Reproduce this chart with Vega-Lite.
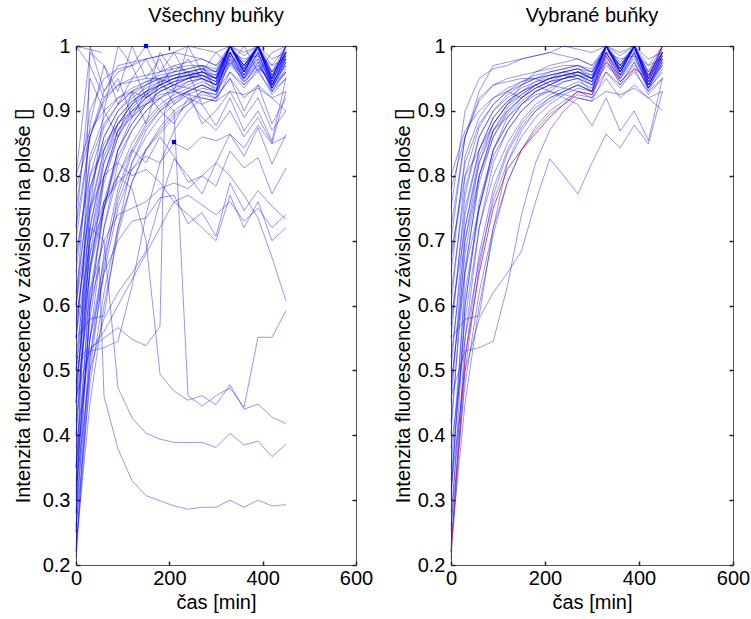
{
  "$schema": "https://vega.github.io/schema/vega-lite/v6.json",
  "background": "white",
  "padding": {"left": 12, "top": 5, "right": 5, "bottom": 5},
  "spacing": 18,
  "config": {
    "view": {"stroke": "#555555", "strokeWidth": 1},
    "font": "Liberation Sans, Arial, sans-serif",
    "axis": {
      "labelFont": "Liberation Sans, Arial, sans-serif",
      "labelFontSize": 20,
      "labelColor": "#000000",
      "labelFlush": false,
      "labelOverlap": false,
      "titleFont": "Liberation Sans, Arial, sans-serif",
      "titleFontSize": 20,
      "titleFontWeight": "normal",
      "titleColor": "#000000",
      "grid": false,
      "domain": false,
      "tickColor": "#222222",
      "tickSize": -4,
      "tickWidth": 1.5
    },
    "axisX": {"labelPadding": 7, "titlePadding": 4},
    "axisY": {"labelPadding": 10, "titlePadding": 9},
    "title": {"font": "Liberation Sans, Arial, sans-serif", "fontSize": 20, "fontWeight": "normal", "color": "#000000", "offset": 10}
  },
  "datasets": {
    "dots": [{"t": 150, "v": 1.0}, {"t": 210, "v": 0.852}],
    "cells": [
{"c":1,"s":1,"t":0,"v":0.22},{"c":1,"s":1,"t":30,"v":0.55},{"c":1,"s":1,"t":60,"v":0.72},{"c":1,"s":1,"t":90,"v":0.82},{"c":1,"s":1,"t":120,"v":0.87},{"c":1,"s":1,"t":150,"v":0.9},{"c":1,"s":1,"t":180,"v":0.92},{"c":1,"s":1,"t":210,"v":0.935},{"c":1,"s":1,"t":240,"v":0.945},{"c":1,"s":1,"t":270,"v":0.95},{"c":1,"s":1,"t":300,"v":0.94},{"c":1,"s":1,"t":330,"v":1},{"c":1,"s":1,"t":360,"v":0.965},{"c":1,"s":1,"t":390,"v":1},{"c":1,"s":1,"t":420,"v":0.945},{"c":1,"s":1,"t":450,"v":0.99},
{"c":2,"s":1,"t":0,"v":0.25},{"c":2,"s":1,"t":30,"v":0.6},{"c":2,"s":1,"t":60,"v":0.76},{"c":2,"s":1,"t":90,"v":0.84},{"c":2,"s":1,"t":120,"v":0.88},{"c":2,"s":1,"t":150,"v":0.91},{"c":2,"s":1,"t":180,"v":0.93},{"c":2,"s":1,"t":210,"v":0.94},{"c":2,"s":1,"t":240,"v":0.95},{"c":2,"s":1,"t":270,"v":0.955},{"c":2,"s":1,"t":300,"v":0.945},{"c":2,"s":1,"t":330,"v":1},{"c":2,"s":1,"t":360,"v":0.96},{"c":2,"s":1,"t":390,"v":1},{"c":2,"s":1,"t":420,"v":0.94},{"c":2,"s":1,"t":450,"v":0.98},
{"c":3,"s":1,"t":0,"v":0.3},{"c":3,"s":1,"t":30,"v":0.65},{"c":3,"s":1,"t":60,"v":0.8},{"c":3,"s":1,"t":90,"v":0.87},{"c":3,"s":1,"t":120,"v":0.9},{"c":3,"s":1,"t":150,"v":0.92},{"c":3,"s":1,"t":180,"v":0.935},{"c":3,"s":1,"t":210,"v":0.945},{"c":3,"s":1,"t":240,"v":0.95},{"c":3,"s":1,"t":270,"v":0.96},{"c":3,"s":1,"t":300,"v":0.95},{"c":3,"s":1,"t":330,"v":1},{"c":3,"s":1,"t":360,"v":0.97},{"c":3,"s":1,"t":390,"v":1},{"c":3,"s":1,"t":420,"v":0.95},{"c":3,"s":1,"t":450,"v":1},
{"c":4,"s":1,"t":0,"v":0.35},{"c":4,"s":1,"t":30,"v":0.62},{"c":4,"s":1,"t":60,"v":0.75},{"c":4,"s":1,"t":90,"v":0.83},{"c":4,"s":1,"t":120,"v":0.87},{"c":4,"s":1,"t":150,"v":0.9},{"c":4,"s":1,"t":180,"v":0.92},{"c":4,"s":1,"t":210,"v":0.93},{"c":4,"s":1,"t":240,"v":0.945},{"c":4,"s":1,"t":270,"v":0.95},{"c":4,"s":1,"t":300,"v":0.94},{"c":4,"s":1,"t":330,"v":0.99},{"c":4,"s":1,"t":360,"v":0.955},{"c":4,"s":1,"t":390,"v":0.99},{"c":4,"s":1,"t":420,"v":0.935},{"c":4,"s":1,"t":450,"v":0.975},
{"c":5,"s":1,"t":0,"v":0.4},{"c":5,"s":1,"t":30,"v":0.7},{"c":5,"s":1,"t":60,"v":0.82},{"c":5,"s":1,"t":90,"v":0.88},{"c":5,"s":1,"t":120,"v":0.91},{"c":5,"s":1,"t":150,"v":0.93},{"c":5,"s":1,"t":180,"v":0.94},{"c":5,"s":1,"t":210,"v":0.95},{"c":5,"s":1,"t":240,"v":0.955},{"c":5,"s":1,"t":270,"v":0.96},{"c":5,"s":1,"t":300,"v":0.955},{"c":5,"s":1,"t":330,"v":1},{"c":5,"s":1,"t":360,"v":0.97},{"c":5,"s":1,"t":390,"v":1},{"c":5,"s":1,"t":420,"v":0.955},{"c":5,"s":1,"t":450,"v":0.99},
{"c":6,"s":1,"t":0,"v":0.45},{"c":6,"s":1,"t":30,"v":0.72},{"c":6,"s":1,"t":60,"v":0.83},{"c":6,"s":1,"t":90,"v":0.88},{"c":6,"s":1,"t":120,"v":0.91},{"c":6,"s":1,"t":150,"v":0.925},{"c":6,"s":1,"t":180,"v":0.94},{"c":6,"s":1,"t":210,"v":0.95},{"c":6,"s":1,"t":240,"v":0.96},{"c":6,"s":1,"t":270,"v":0.965},{"c":6,"s":1,"t":300,"v":0.95},{"c":6,"s":1,"t":330,"v":1},{"c":6,"s":1,"t":360,"v":0.96},{"c":6,"s":1,"t":390,"v":1},{"c":6,"s":1,"t":420,"v":0.945},{"c":6,"s":1,"t":450,"v":0.985},
{"c":7,"s":1,"t":0,"v":0.5},{"c":7,"s":1,"t":30,"v":0.74},{"c":7,"s":1,"t":60,"v":0.84},{"c":7,"s":1,"t":90,"v":0.89},{"c":7,"s":1,"t":120,"v":0.915},{"c":7,"s":1,"t":150,"v":0.93},{"c":7,"s":1,"t":180,"v":0.945},{"c":7,"s":1,"t":210,"v":0.955},{"c":7,"s":1,"t":240,"v":0.96},{"c":7,"s":1,"t":270,"v":0.965},{"c":7,"s":1,"t":300,"v":0.955},{"c":7,"s":1,"t":330,"v":1},{"c":7,"s":1,"t":360,"v":0.965},{"c":7,"s":1,"t":390,"v":1},{"c":7,"s":1,"t":420,"v":0.95},{"c":7,"s":1,"t":450,"v":0.99},
{"c":8,"s":1,"t":0,"v":0.55},{"c":8,"s":1,"t":30,"v":0.77},{"c":8,"s":1,"t":60,"v":0.86},{"c":8,"s":1,"t":90,"v":0.9},{"c":8,"s":1,"t":120,"v":0.925},{"c":8,"s":1,"t":150,"v":0.94},{"c":8,"s":1,"t":180,"v":0.95},{"c":8,"s":1,"t":210,"v":0.955},{"c":8,"s":1,"t":240,"v":0.96},{"c":8,"s":1,"t":270,"v":0.965},{"c":8,"s":1,"t":300,"v":0.96},{"c":8,"s":1,"t":330,"v":1},{"c":8,"s":1,"t":360,"v":0.97},{"c":8,"s":1,"t":390,"v":1},{"c":8,"s":1,"t":420,"v":0.955},{"c":8,"s":1,"t":450,"v":0.995},
{"c":9,"s":1,"t":0,"v":0.6},{"c":9,"s":1,"t":30,"v":0.8},{"c":9,"s":1,"t":60,"v":0.875},{"c":9,"s":1,"t":90,"v":0.91},{"c":9,"s":1,"t":120,"v":0.93},{"c":9,"s":1,"t":150,"v":0.945},{"c":9,"s":1,"t":180,"v":0.95},{"c":9,"s":1,"t":210,"v":0.96},{"c":9,"s":1,"t":240,"v":0.965},{"c":9,"s":1,"t":270,"v":0.97},{"c":9,"s":1,"t":300,"v":0.96},{"c":9,"s":1,"t":330,"v":1},{"c":9,"s":1,"t":360,"v":0.965},{"c":9,"s":1,"t":390,"v":1},{"c":9,"s":1,"t":420,"v":0.96},{"c":9,"s":1,"t":450,"v":0.99},
{"c":10,"s":1,"t":0,"v":0.65},{"c":10,"s":1,"t":30,"v":0.83},{"c":10,"s":1,"t":60,"v":0.89},{"c":10,"s":1,"t":90,"v":0.92},{"c":10,"s":1,"t":120,"v":0.935},{"c":10,"s":1,"t":150,"v":0.945},{"c":10,"s":1,"t":180,"v":0.955},{"c":10,"s":1,"t":210,"v":0.96},{"c":10,"s":1,"t":240,"v":0.965},{"c":10,"s":1,"t":270,"v":0.97},{"c":10,"s":1,"t":300,"v":0.96},{"c":10,"s":1,"t":330,"v":0.995},{"c":10,"s":1,"t":360,"v":0.97},{"c":10,"s":1,"t":390,"v":0.995},{"c":10,"s":1,"t":420,"v":0.955},{"c":10,"s":1,"t":450,"v":0.985},
{"c":11,"s":1,"t":0,"v":0.7},{"c":11,"s":1,"t":30,"v":0.86},{"c":11,"s":1,"t":60,"v":0.915},{"c":11,"s":1,"t":90,"v":0.94},{"c":11,"s":1,"t":120,"v":0.95},{"c":11,"s":1,"t":150,"v":0.955},{"c":11,"s":1,"t":180,"v":0.96},{"c":11,"s":1,"t":210,"v":0.965},{"c":11,"s":1,"t":240,"v":0.97},{"c":11,"s":1,"t":270,"v":0.97},{"c":11,"s":1,"t":300,"v":0.965},{"c":11,"s":1,"t":330,"v":1},{"c":11,"s":1,"t":360,"v":0.975},{"c":11,"s":1,"t":390,"v":1},{"c":11,"s":1,"t":420,"v":0.96},{"c":11,"s":1,"t":450,"v":1},
{"c":12,"s":1,"t":0,"v":0.78},{"c":12,"s":1,"t":30,"v":0.86},{"c":12,"s":1,"t":60,"v":0.93},{"c":12,"s":1,"t":90,"v":0.97},{"c":12,"s":1,"t":120,"v":0.975},{"c":12,"s":1,"t":150,"v":0.98},{"c":12,"s":1,"t":180,"v":0.985},{"c":12,"s":1,"t":210,"v":0.99},{"c":12,"s":1,"t":240,"v":0.985},{"c":12,"s":1,"t":270,"v":0.98},{"c":12,"s":1,"t":300,"v":0.97},{"c":12,"s":1,"t":330,"v":0.99},{"c":12,"s":1,"t":360,"v":0.98},{"c":12,"s":1,"t":390,"v":0.985},{"c":12,"s":1,"t":420,"v":0.97},{"c":12,"s":1,"t":450,"v":0.98},
{"c":13,"s":1,"t":0,"v":0.28},{"c":13,"s":1,"t":30,"v":0.52},{"c":13,"s":1,"t":60,"v":0.68},{"c":13,"s":1,"t":90,"v":0.78},{"c":13,"s":1,"t":120,"v":0.84},{"c":13,"s":1,"t":150,"v":0.88},{"c":13,"s":1,"t":180,"v":0.905},{"c":13,"s":1,"t":210,"v":0.92},{"c":13,"s":1,"t":240,"v":0.93},{"c":13,"s":1,"t":270,"v":0.94},{"c":13,"s":1,"t":300,"v":0.93},{"c":13,"s":1,"t":330,"v":1},{"c":13,"s":1,"t":360,"v":0.955},{"c":13,"s":1,"t":390,"v":1},{"c":13,"s":1,"t":420,"v":0.935},{"c":13,"s":1,"t":450,"v":0.97},
{"c":14,"s":1,"t":0,"v":0.33},{"c":14,"s":1,"t":30,"v":0.58},{"c":14,"s":1,"t":60,"v":0.72},{"c":14,"s":1,"t":90,"v":0.8},{"c":14,"s":1,"t":120,"v":0.85},{"c":14,"s":1,"t":150,"v":0.885},{"c":14,"s":1,"t":180,"v":0.91},{"c":14,"s":1,"t":210,"v":0.925},{"c":14,"s":1,"t":240,"v":0.935},{"c":14,"s":1,"t":270,"v":0.945},{"c":14,"s":1,"t":300,"v":0.935},{"c":14,"s":1,"t":330,"v":0.985},{"c":14,"s":1,"t":360,"v":0.95},{"c":14,"s":1,"t":390,"v":0.985},{"c":14,"s":1,"t":420,"v":0.93},{"c":14,"s":1,"t":450,"v":0.965},
{"c":15,"s":1,"t":0,"v":0.38},{"c":15,"s":1,"t":30,"v":0.55},{"c":15,"s":1,"t":60,"v":0.67},{"c":15,"s":1,"t":90,"v":0.76},{"c":15,"s":1,"t":120,"v":0.82},{"c":15,"s":1,"t":150,"v":0.86},{"c":15,"s":1,"t":180,"v":0.89},{"c":15,"s":1,"t":210,"v":0.91},{"c":15,"s":1,"t":240,"v":0.925},{"c":15,"s":1,"t":270,"v":0.935},{"c":15,"s":1,"t":300,"v":0.93},{"c":15,"s":1,"t":330,"v":1},{"c":15,"s":1,"t":360,"v":0.96},{"c":15,"s":1,"t":390,"v":1},{"c":15,"s":1,"t":420,"v":0.94},{"c":15,"s":1,"t":450,"v":0.98},
{"c":16,"s":1,"t":0,"v":0.42},{"c":16,"s":1,"t":30,"v":0.66},{"c":16,"s":1,"t":60,"v":0.79},{"c":16,"s":1,"t":90,"v":0.86},{"c":16,"s":1,"t":120,"v":0.895},{"c":16,"s":1,"t":150,"v":0.92},{"c":16,"s":1,"t":180,"v":0.935},{"c":16,"s":1,"t":210,"v":0.945},{"c":16,"s":1,"t":240,"v":0.95},{"c":16,"s":1,"t":270,"v":0.955},{"c":16,"s":1,"t":300,"v":0.945},{"c":16,"s":1,"t":330,"v":1},{"c":16,"s":1,"t":360,"v":0.96},{"c":16,"s":1,"t":390,"v":1},{"c":16,"s":1,"t":420,"v":0.94},{"c":16,"s":1,"t":450,"v":0.985},
{"c":17,"s":1,"t":0,"v":0.47},{"c":17,"s":1,"t":30,"v":0.68},{"c":17,"s":1,"t":60,"v":0.8},{"c":17,"s":1,"t":90,"v":0.87},{"c":17,"s":1,"t":120,"v":0.905},{"c":17,"s":1,"t":150,"v":0.925},{"c":17,"s":1,"t":180,"v":0.94},{"c":17,"s":1,"t":210,"v":0.95},{"c":17,"s":1,"t":240,"v":0.955},{"c":17,"s":1,"t":270,"v":0.96},{"c":17,"s":1,"t":300,"v":0.95},{"c":17,"s":1,"t":330,"v":0.99},{"c":17,"s":1,"t":360,"v":0.96},{"c":17,"s":1,"t":390,"v":0.995},{"c":17,"s":1,"t":420,"v":0.95},{"c":17,"s":1,"t":450,"v":0.98},
{"c":18,"s":1,"t":0,"v":0.52},{"c":18,"s":1,"t":30,"v":0.7},{"c":18,"s":1,"t":60,"v":0.8},{"c":18,"s":1,"t":90,"v":0.86},{"c":18,"s":1,"t":120,"v":0.9},{"c":18,"s":1,"t":150,"v":0.92},{"c":18,"s":1,"t":180,"v":0.935},{"c":18,"s":1,"t":210,"v":0.945},{"c":18,"s":1,"t":240,"v":0.955},{"c":18,"s":1,"t":270,"v":0.96},{"c":18,"s":1,"t":300,"v":0.95},{"c":18,"s":1,"t":330,"v":1},{"c":18,"s":1,"t":360,"v":0.965},{"c":18,"s":1,"t":390,"v":1},{"c":18,"s":1,"t":420,"v":0.95},{"c":18,"s":1,"t":450,"v":0.99},
{"c":19,"s":1,"t":0,"v":0.57},{"c":19,"s":1,"t":30,"v":0.75},{"c":19,"s":1,"t":60,"v":0.84},{"c":19,"s":1,"t":90,"v":0.89},{"c":19,"s":1,"t":120,"v":0.915},{"c":19,"s":1,"t":150,"v":0.93},{"c":19,"s":1,"t":180,"v":0.94},{"c":19,"s":1,"t":210,"v":0.95},{"c":19,"s":1,"t":240,"v":0.955},{"c":19,"s":1,"t":270,"v":0.96},{"c":19,"s":1,"t":300,"v":0.95},{"c":19,"s":1,"t":330,"v":0.975},{"c":19,"s":1,"t":360,"v":0.955},{"c":19,"s":1,"t":390,"v":0.98},{"c":19,"s":1,"t":420,"v":0.945},{"c":19,"s":1,"t":450,"v":0.97},
{"c":20,"s":1,"t":0,"v":0.62},{"c":20,"s":1,"t":30,"v":0.78},{"c":20,"s":1,"t":60,"v":0.86},{"c":20,"s":1,"t":90,"v":0.9},{"c":20,"s":1,"t":120,"v":0.92},{"c":20,"s":1,"t":150,"v":0.935},{"c":20,"s":1,"t":180,"v":0.945},{"c":20,"s":1,"t":210,"v":0.95},{"c":20,"s":1,"t":240,"v":0.955},{"c":20,"s":1,"t":270,"v":0.95},{"c":20,"s":1,"t":300,"v":0.93},{"c":20,"s":1,"t":330,"v":0.96},{"c":20,"s":1,"t":360,"v":0.935},{"c":20,"s":1,"t":390,"v":0.965},{"c":20,"s":1,"t":420,"v":0.925},{"c":20,"s":1,"t":450,"v":0.95},
{"c":21,"s":1,"t":0,"v":0.67},{"c":21,"s":1,"t":30,"v":0.82},{"c":21,"s":1,"t":60,"v":0.88},{"c":21,"s":1,"t":90,"v":0.91},{"c":21,"s":1,"t":120,"v":0.93},{"c":21,"s":1,"t":150,"v":0.94},{"c":21,"s":1,"t":180,"v":0.95},{"c":21,"s":1,"t":210,"v":0.955},{"c":21,"s":1,"t":240,"v":0.96},{"c":21,"s":1,"t":270,"v":0.955},{"c":21,"s":1,"t":300,"v":0.94},{"c":21,"s":1,"t":330,"v":0.97},{"c":21,"s":1,"t":360,"v":0.95},{"c":21,"s":1,"t":390,"v":0.975},{"c":21,"s":1,"t":420,"v":0.935},{"c":21,"s":1,"t":450,"v":0.96},
{"c":22,"s":1,"t":0,"v":0.72},{"c":22,"s":1,"t":30,"v":0.86},{"c":22,"s":1,"t":60,"v":0.92},{"c":22,"s":1,"t":90,"v":0.94},{"c":22,"s":1,"t":120,"v":0.945},{"c":22,"s":1,"t":150,"v":0.95},{"c":22,"s":1,"t":180,"v":0.95},{"c":22,"s":1,"t":210,"v":0.94},{"c":22,"s":1,"t":240,"v":0.935},{"c":22,"s":1,"t":270,"v":0.93},{"c":22,"s":1,"t":300,"v":0.92},{"c":22,"s":1,"t":330,"v":0.95},{"c":22,"s":1,"t":360,"v":0.92},{"c":22,"s":1,"t":390,"v":0.94},{"c":22,"s":1,"t":420,"v":0.92},{"c":22,"s":1,"t":450,"v":0.93},
{"c":23,"s":1,"t":0,"v":0.8},{"c":23,"s":1,"t":30,"v":0.87},{"c":23,"s":1,"t":60,"v":0.9},{"c":23,"s":1,"t":90,"v":0.92},{"c":23,"s":1,"t":120,"v":0.93},{"c":23,"s":1,"t":150,"v":0.92},{"c":23,"s":1,"t":180,"v":0.94},{"c":23,"s":1,"t":210,"v":0.93},{"c":23,"s":1,"t":240,"v":0.925},{"c":23,"s":1,"t":270,"v":0.92},{"c":23,"s":1,"t":300,"v":0.915},{"c":23,"s":1,"t":330,"v":0.93},{"c":23,"s":1,"t":360,"v":0.925},{"c":23,"s":1,"t":390,"v":0.935},{"c":23,"s":1,"t":420,"v":0.92},{"c":23,"s":1,"t":450,"v":0.9},
{"c":24,"s":1,"t":0,"v":0.26},{"c":24,"s":1,"t":30,"v":0.48},{"c":24,"s":1,"t":60,"v":0.62},{"c":24,"s":1,"t":90,"v":0.72},{"c":24,"s":1,"t":120,"v":0.79},{"c":24,"s":1,"t":150,"v":0.84},{"c":24,"s":1,"t":180,"v":0.87},{"c":24,"s":1,"t":210,"v":0.895},{"c":24,"s":1,"t":240,"v":0.91},{"c":24,"s":1,"t":270,"v":0.925},{"c":24,"s":1,"t":300,"v":0.92},{"c":24,"s":1,"t":330,"v":0.98},{"c":24,"s":1,"t":360,"v":0.94},{"c":24,"s":1,"t":390,"v":0.975},{"c":24,"s":1,"t":420,"v":0.935},{"c":24,"s":1,"t":450,"v":0.99},
{"c":25,"s":1,"t":0,"v":0.23},{"c":25,"s":1,"t":30,"v":0.45},{"c":25,"s":1,"t":60,"v":0.6},{"c":25,"s":1,"t":90,"v":0.71},{"c":25,"s":1,"t":120,"v":0.79},{"c":25,"s":1,"t":150,"v":0.84},{"c":25,"s":1,"t":180,"v":0.875},{"c":25,"s":1,"t":210,"v":0.9},{"c":25,"s":1,"t":240,"v":0.915},{"c":25,"s":1,"t":270,"v":0.93},{"c":25,"s":1,"t":300,"v":0.925},{"c":25,"s":1,"t":330,"v":0.975},{"c":25,"s":1,"t":360,"v":0.945},{"c":25,"s":1,"t":390,"v":0.97},{"c":25,"s":1,"t":420,"v":0.94},{"c":25,"s":1,"t":450,"v":0.98},
{"c":26,"s":1,"t":0,"v":0.46},{"c":26,"s":1,"t":30,"v":0.53},{"c":26,"s":1,"t":60,"v":0.535},{"c":26,"s":1,"t":90,"v":0.545},{"c":26,"s":1,"t":120,"v":0.63},{"c":26,"s":1,"t":150,"v":0.74},{"c":26,"s":1,"t":180,"v":0.82},{"c":26,"s":1,"t":210,"v":0.87},{"c":26,"s":1,"t":240,"v":0.9},{"c":26,"s":1,"t":270,"v":0.92},{"c":26,"s":1,"t":300,"v":0.915},{"c":26,"s":1,"t":330,"v":0.96},{"c":26,"s":1,"t":360,"v":0.94},{"c":26,"s":1,"t":390,"v":0.96},{"c":26,"s":1,"t":420,"v":0.93},{"c":26,"s":1,"t":450,"v":0.95},
{"c":27,"s":1,"t":0,"v":0.32},{"c":27,"s":1,"t":30,"v":0.5},{"c":27,"s":1,"t":60,"v":0.58},{"c":27,"s":1,"t":90,"v":0.62},{"c":27,"s":1,"t":120,"v":0.65},{"c":27,"s":1,"t":150,"v":0.684},{"c":27,"s":1,"t":180,"v":0.76},{"c":27,"s":1,"t":210,"v":0.826},{"c":27,"s":1,"t":240,"v":0.8},{"c":27,"s":1,"t":270,"v":0.772},{"c":27,"s":1,"t":300,"v":0.82},{"c":27,"s":1,"t":330,"v":0.864},{"c":27,"s":1,"t":360,"v":0.843},{"c":27,"s":1,"t":390,"v":0.878},{"c":27,"s":1,"t":420,"v":0.849},{"c":27,"s":1,"t":450,"v":0.93},
{"c":28,"s":1,"t":0,"v":0.55},{"c":28,"s":1,"t":30,"v":0.579},{"c":28,"s":1,"t":60,"v":0.584},{"c":28,"s":1,"t":90,"v":0.72},{"c":28,"s":1,"t":120,"v":0.82},{"c":28,"s":1,"t":150,"v":0.87},{"c":28,"s":1,"t":180,"v":0.9},{"c":28,"s":1,"t":210,"v":0.92},{"c":28,"s":1,"t":240,"v":0.93},{"c":28,"s":1,"t":270,"v":0.94},{"c":28,"s":1,"t":300,"v":0.93},{"c":28,"s":1,"t":330,"v":0.99},{"c":28,"s":1,"t":360,"v":0.955},{"c":28,"s":1,"t":390,"v":0.99},{"c":28,"s":1,"t":420,"v":0.94},{"c":28,"s":1,"t":450,"v":0.975},
{"c":29,"s":1,"t":0,"v":0.48},{"c":29,"s":1,"t":30,"v":0.653},{"c":29,"s":1,"t":60,"v":0.75},{"c":29,"s":1,"t":90,"v":0.84},{"c":29,"s":1,"t":120,"v":0.88},{"c":29,"s":1,"t":150,"v":0.91},{"c":29,"s":1,"t":180,"v":0.93},{"c":29,"s":1,"t":210,"v":0.94},{"c":29,"s":1,"t":240,"v":0.95},{"c":29,"s":1,"t":270,"v":0.955},{"c":29,"s":1,"t":300,"v":0.945},{"c":29,"s":1,"t":330,"v":1},{"c":29,"s":1,"t":360,"v":0.96},{"c":29,"s":1,"t":390,"v":1},{"c":29,"s":1,"t":420,"v":0.945},{"c":29,"s":1,"t":450,"v":0.99},
{"c":30,"s":1,"t":0,"v":0.31},{"c":30,"s":1,"t":30,"v":0.6},{"c":30,"s":1,"t":60,"v":0.75},{"c":30,"s":1,"t":90,"v":0.84},{"c":30,"s":1,"t":120,"v":0.89},{"c":30,"s":1,"t":150,"v":0.915},{"c":30,"s":1,"t":180,"v":0.93},{"c":30,"s":1,"t":210,"v":0.94},{"c":30,"s":1,"t":240,"v":0.95},{"c":30,"s":1,"t":270,"v":0.955},{"c":30,"s":1,"t":300,"v":0.95},{"c":30,"s":1,"t":330,"v":1},{"c":30,"s":1,"t":360,"v":0.96},{"c":30,"s":1,"t":390,"v":1},{"c":30,"s":1,"t":420,"v":0.95},{"c":30,"s":1,"t":450,"v":1},
{"c":31,"s":1,"t":0,"v":0.68},{"c":31,"s":1,"t":30,"v":0.8},{"c":31,"s":1,"t":60,"v":0.84},{"c":31,"s":1,"t":90,"v":0.88},{"c":31,"s":1,"t":120,"v":0.91},{"c":31,"s":1,"t":150,"v":0.94},{"c":31,"s":1,"t":180,"v":0.96},{"c":31,"s":1,"t":210,"v":0.97},{"c":31,"s":1,"t":240,"v":0.975},{"c":31,"s":1,"t":270,"v":0.98},{"c":31,"s":1,"t":300,"v":0.97},{"c":31,"s":1,"t":330,"v":1},{"c":31,"s":1,"t":360,"v":0.985},{"c":31,"s":1,"t":390,"v":1},{"c":31,"s":1,"t":420,"v":0.97},{"c":31,"s":1,"t":450,"v":1},
{"c":32,"s":1,"t":0,"v":0.58},{"c":32,"s":1,"t":30,"v":0.72},{"c":32,"s":1,"t":60,"v":0.82},{"c":32,"s":1,"t":90,"v":0.87},{"c":32,"s":1,"t":120,"v":0.89},{"c":32,"s":1,"t":150,"v":0.91},{"c":32,"s":1,"t":180,"v":0.925},{"c":32,"s":1,"t":210,"v":0.93},{"c":32,"s":1,"t":240,"v":0.92},{"c":32,"s":1,"t":270,"v":0.91},{"c":32,"s":1,"t":300,"v":0.877},{"c":32,"s":1,"t":330,"v":0.92},{"c":32,"s":1,"t":360,"v":0.869},{"c":32,"s":1,"t":390,"v":0.9},{"c":32,"s":1,"t":420,"v":0.854},{"c":32,"s":1,"t":450,"v":0.951},
{"c":33,"s":1,"t":0,"v":0.75},{"c":33,"s":1,"t":30,"v":0.9},{"c":33,"s":1,"t":60,"v":0.95},{"c":33,"s":1,"t":90,"v":0.965},{"c":33,"s":1,"t":120,"v":0.97},{"c":33,"s":1,"t":150,"v":0.98},{"c":33,"s":1,"t":180,"v":0.985},{"c":33,"s":1,"t":210,"v":0.99},{"c":33,"s":1,"t":240,"v":1},{"c":33,"s":1,"t":270,"v":0.995},{"c":33,"s":1,"t":300,"v":0.99},{"c":33,"s":1,"t":330,"v":1},{"c":33,"s":1,"t":360,"v":0.99},{"c":33,"s":1,"t":390,"v":1},{"c":33,"s":1,"t":420,"v":0.98},{"c":33,"s":1,"t":450,"v":0.99},
{"c":34,"s":1,"t":0,"v":0.21},{"c":34,"s":1,"t":30,"v":0.5},{"c":34,"s":1,"t":60,"v":0.66},{"c":34,"s":1,"t":90,"v":0.77},{"c":34,"s":1,"t":120,"v":0.835},{"c":34,"s":1,"t":150,"v":0.875},{"c":34,"s":1,"t":180,"v":0.9},{"c":34,"s":1,"t":210,"v":0.915},{"c":34,"s":1,"t":240,"v":0.93},{"c":34,"s":1,"t":270,"v":0.94},{"c":34,"s":1,"t":300,"v":0.93},{"c":34,"s":1,"t":330,"v":0.99},{"c":34,"s":1,"t":360,"v":0.95},{"c":34,"s":1,"t":390,"v":0.99},{"c":34,"s":1,"t":420,"v":0.935},{"c":34,"s":1,"t":450,"v":0.975},
{"c":50,"s":1,"t":0,"v":0.22},{"c":50,"s":1,"t":30,"v":0.52},{"c":50,"s":1,"t":60,"v":0.65},{"c":50,"s":1,"t":90,"v":0.75},{"c":50,"s":1,"t":120,"v":0.81},{"c":50,"s":1,"t":150,"v":0.84},{"c":50,"s":1,"t":180,"v":0.865},{"c":50,"s":1,"t":210,"v":0.89},{"c":50,"s":1,"t":240,"v":0.91},{"c":50,"s":1,"t":270,"v":0.93},{"c":50,"s":1,"t":300,"v":0.925},{"c":50,"s":1,"t":330,"v":0.985},{"c":50,"s":1,"t":360,"v":0.945},{"c":50,"s":1,"t":390,"v":0.965},{"c":50,"s":1,"t":420,"v":0.95},{"c":50,"s":1,"t":450,"v":1},
{"c":101,"s":0,"t":0,"v":0.28},{"c":101,"s":0,"t":30,"v":0.6},{"c":101,"s":0,"t":50,"v":0.66},{"c":101,"s":0,"t":60,"v":0.46},{"c":101,"s":0,"t":90,"v":0.379},{"c":101,"s":0,"t":120,"v":0.33},{"c":101,"s":0,"t":150,"v":0.307},{"c":101,"s":0,"t":180,"v":0.299},{"c":101,"s":0,"t":210,"v":0.291},{"c":101,"s":0,"t":240,"v":0.286},{"c":101,"s":0,"t":270,"v":0.289},{"c":101,"s":0,"t":300,"v":0.289},{"c":101,"s":0,"t":330,"v":0.3},{"c":101,"s":0,"t":360,"v":0.289},{"c":101,"s":0,"t":390,"v":0.3},{"c":101,"s":0,"t":420,"v":0.291},{"c":101,"s":0,"t":450,"v":0.293},
{"c":102,"s":0,"t":0,"v":0.35},{"c":102,"s":0,"t":30,"v":0.72},{"c":102,"s":0,"t":60,"v":0.7},{"c":102,"s":0,"t":90,"v":0.473},{"c":102,"s":0,"t":120,"v":0.427},{"c":102,"s":0,"t":150,"v":0.403},{"c":102,"s":0,"t":180,"v":0.394},{"c":102,"s":0,"t":210,"v":0.389},{"c":102,"s":0,"t":240,"v":0.389},{"c":102,"s":0,"t":270,"v":0.389},{"c":102,"s":0,"t":300,"v":0.381},{"c":102,"s":0,"t":330,"v":0.403},{"c":102,"s":0,"t":360,"v":0.385},{"c":102,"s":0,"t":390,"v":0.391},{"c":102,"s":0,"t":420,"v":0.367},{"c":102,"s":0,"t":450,"v":0.386},
{"c":103,"s":0,"t":0,"v":0.4},{"c":103,"s":0,"t":30,"v":0.66},{"c":103,"s":0,"t":60,"v":0.76},{"c":103,"s":0,"t":90,"v":0.8},{"c":103,"s":0,"t":120,"v":0.78},{"c":103,"s":0,"t":150,"v":0.7},{"c":103,"s":0,"t":180,"v":0.494},{"c":103,"s":0,"t":210,"v":0.468},{"c":103,"s":0,"t":240,"v":0.454},{"c":103,"s":0,"t":270,"v":0.461},{"c":103,"s":0,"t":300,"v":0.447},{"c":103,"s":0,"t":330,"v":0.478},{"c":103,"s":0,"t":360,"v":0.44},{"c":103,"s":0,"t":390,"v":0.448},{"c":103,"s":0,"t":420,"v":0.428},{"c":103,"s":0,"t":450,"v":0.418},
{"c":104,"s":0,"t":0,"v":0.55},{"c":104,"s":0,"t":30,"v":0.78},{"c":104,"s":0,"t":60,"v":0.85},{"c":104,"s":0,"t":90,"v":0.88},{"c":104,"s":0,"t":120,"v":0.9},{"c":104,"s":0,"t":150,"v":0.91},{"c":104,"s":0,"t":180,"v":0.92},{"c":104,"s":0,"t":210,"v":0.9},{"c":104,"s":0,"t":240,"v":0.461},{"c":104,"s":0,"t":270,"v":0.445},{"c":104,"s":0,"t":300,"v":0.461},{"c":104,"s":0,"t":330,"v":0.473},{"c":104,"s":0,"t":360,"v":0.443},{"c":104,"s":0,"t":390,"v":0.551},{"c":104,"s":0,"t":420,"v":0.551},{"c":104,"s":0,"t":450,"v":0.592},
{"c":105,"s":0,"t":0,"v":0.518},{"c":105,"s":0,"t":90,"v":0.566},{"c":105,"s":0,"t":120,"v":0.548},{"c":105,"s":0,"t":150,"v":0.538},{"c":105,"s":0,"t":180,"v":0.568},{"c":105,"s":0,"t":190,"v":0.9},{"c":105,"s":0,"t":210,"v":0.93},{"c":105,"s":0,"t":240,"v":0.94},{"c":105,"s":0,"t":270,"v":0.95},{"c":105,"s":0,"t":300,"v":0.94},{"c":105,"s":0,"t":330,"v":0.98},{"c":105,"s":0,"t":360,"v":0.95},{"c":105,"s":0,"t":390,"v":0.97},{"c":105,"s":0,"t":420,"v":0.94},{"c":105,"s":0,"t":450,"v":0.96},
{"c":106,"s":0,"t":0,"v":0.35},{"c":106,"s":0,"t":30,"v":0.55},{"c":106,"s":0,"t":60,"v":0.65},{"c":106,"s":0,"t":90,"v":0.7},{"c":106,"s":0,"t":120,"v":0.73},{"c":106,"s":0,"t":150,"v":0.735},{"c":106,"s":0,"t":180,"v":0.766},{"c":106,"s":0,"t":210,"v":0.77},{"c":106,"s":0,"t":240,"v":0.726},{"c":106,"s":0,"t":270,"v":0.743},{"c":106,"s":0,"t":300,"v":0.707},{"c":106,"s":0,"t":330,"v":0.789},{"c":106,"s":0,"t":360,"v":0.746},{"c":106,"s":0,"t":390,"v":0.777},{"c":106,"s":0,"t":420,"v":0.753},{"c":106,"s":0,"t":450,"v":0.733},
{"c":107,"s":0,"t":0,"v":0.45},{"c":107,"s":0,"t":30,"v":0.62},{"c":107,"s":0,"t":60,"v":0.7},{"c":107,"s":0,"t":90,"v":0.74},{"c":107,"s":0,"t":120,"v":0.75},{"c":107,"s":0,"t":150,"v":0.76},{"c":107,"s":0,"t":180,"v":0.78},{"c":107,"s":0,"t":210,"v":0.789},{"c":107,"s":0,"t":240,"v":0.78},{"c":107,"s":0,"t":270,"v":0.8},{"c":107,"s":0,"t":300,"v":0.784},{"c":107,"s":0,"t":330,"v":0.838},{"c":107,"s":0,"t":360,"v":0.812},{"c":107,"s":0,"t":390,"v":0.828},{"c":107,"s":0,"t":420,"v":0.772},{"c":107,"s":0,"t":450,"v":0.812},
{"c":108,"s":0,"t":0,"v":0.55},{"c":108,"s":0,"t":30,"v":0.7},{"c":108,"s":0,"t":60,"v":0.76},{"c":108,"s":0,"t":90,"v":0.79},{"c":108,"s":0,"t":120,"v":0.81},{"c":108,"s":0,"t":150,"v":0.83},{"c":108,"s":0,"t":180,"v":0.82},{"c":108,"s":0,"t":210,"v":0.85},{"c":108,"s":0,"t":240,"v":0.84},{"c":108,"s":0,"t":270,"v":0.86},{"c":108,"s":0,"t":300,"v":0.854},{"c":108,"s":0,"t":330,"v":0.864},{"c":108,"s":0,"t":360,"v":0.83},{"c":108,"s":0,"t":390,"v":0.874},{"c":108,"s":0,"t":420,"v":0.818},{"c":108,"s":0,"t":450,"v":0.864},
{"c":109,"s":0,"t":0,"v":0.5},{"c":109,"s":0,"t":30,"v":0.68},{"c":109,"s":0,"t":60,"v":0.75},{"c":109,"s":0,"t":90,"v":0.8},{"c":109,"s":0,"t":120,"v":0.84},{"c":109,"s":0,"t":150,"v":0.82},{"c":109,"s":0,"t":180,"v":0.86},{"c":109,"s":0,"t":210,"v":0.83},{"c":109,"s":0,"t":240,"v":0.79},{"c":109,"s":0,"t":270,"v":0.8},{"c":109,"s":0,"t":300,"v":0.82},{"c":109,"s":0,"t":330,"v":0.8},{"c":109,"s":0,"t":360,"v":0.77},{"c":109,"s":0,"t":390,"v":0.735},{"c":109,"s":0,"t":420,"v":0.674},{"c":109,"s":0,"t":450,"v":0.607},
{"c":110,"s":0,"t":0,"v":0.6},{"c":110,"s":0,"t":30,"v":0.75},{"c":110,"s":0,"t":60,"v":0.8},{"c":110,"s":0,"t":90,"v":0.82},{"c":110,"s":0,"t":120,"v":0.8},{"c":110,"s":0,"t":150,"v":0.81},{"c":110,"s":0,"t":180,"v":0.79},{"c":110,"s":0,"t":210,"v":0.76},{"c":110,"s":0,"t":240,"v":0.74},{"c":110,"s":0,"t":270,"v":0.72},{"c":110,"s":0,"t":300,"v":0.7},{"c":110,"s":0,"t":330,"v":0.77},{"c":110,"s":0,"t":360,"v":0.72},{"c":110,"s":0,"t":390,"v":0.76},{"c":110,"s":0,"t":420,"v":0.7},{"c":110,"s":0,"t":450,"v":0.72},
{"c":111,"s":0,"t":0,"v":0.51},{"c":111,"s":0,"t":30,"v":0.53},{"c":111,"s":0,"t":60,"v":0.56},{"c":111,"s":0,"t":90,"v":0.6},{"c":111,"s":0,"t":120,"v":0.64},{"c":111,"s":0,"t":150,"v":0.68},{"c":111,"s":0,"t":180,"v":0.72},{"c":111,"s":0,"t":210,"v":0.76},{"c":111,"s":0,"t":240,"v":0.77},{"c":111,"s":0,"t":270,"v":0.755},{"c":111,"s":0,"t":300,"v":0.74},{"c":111,"s":0,"t":330,"v":0.76},{"c":111,"s":0,"t":360,"v":0.73},{"c":111,"s":0,"t":390,"v":0.75},{"c":111,"s":0,"t":420,"v":0.72},{"c":111,"s":0,"t":450,"v":0.74},
{"c":112,"s":0,"t":0,"v":1.0},{"c":112,"s":0,"t":55,"v":0.99},
{"c":113,"s":0,"t":0,"v":0.72},{"c":113,"s":0,"t":30,"v":0.95},{"c":113,"s":0,"t":60,"v":0.9},{"c":113,"s":0,"t":90,"v":1},{"c":113,"s":0,"t":120,"v":0.97},{"c":113,"s":0,"t":150,"v":1},{"c":113,"s":0,"t":180,"v":0.96},{"c":113,"s":0,"t":210,"v":0.99},{"c":113,"s":0,"t":240,"v":0.95},{"c":113,"s":0,"t":270,"v":0.97},{"c":113,"s":0,"t":300,"v":0.93},{"c":113,"s":0,"t":330,"v":0.99},{"c":113,"s":0,"t":360,"v":0.95},{"c":113,"s":0,"t":390,"v":0.98},{"c":113,"s":0,"t":420,"v":0.93},{"c":113,"s":0,"t":450,"v":0.96},
{"c":114,"s":0,"t":0,"v":0.6},{"c":114,"s":0,"t":30,"v":0.88},{"c":114,"s":0,"t":60,"v":0.97},{"c":114,"s":0,"t":90,"v":0.93},{"c":114,"s":0,"t":120,"v":1},{"c":114,"s":0,"t":150,"v":0.95},{"c":114,"s":0,"t":180,"v":0.98},{"c":114,"s":0,"t":210,"v":0.93},{"c":114,"s":0,"t":240,"v":1},{"c":114,"s":0,"t":270,"v":0.96},{"c":114,"s":0,"t":300,"v":0.99},{"c":114,"s":0,"t":330,"v":0.97},{"c":114,"s":0,"t":360,"v":1},{"c":114,"s":0,"t":390,"v":0.96},{"c":114,"s":0,"t":420,"v":0.99},{"c":114,"s":0,"t":450,"v":1},
{"c":115,"s":0,"t":0,"v":1},{"c":115,"s":0,"t":30,"v":0.97},{"c":115,"s":0,"t":60,"v":0.92},{"c":115,"s":0,"t":90,"v":0.95},{"c":115,"s":0,"t":120,"v":0.89},{"c":115,"s":0,"t":150,"v":0.93},{"c":115,"s":0,"t":180,"v":0.9},{"c":115,"s":0,"t":210,"v":0.88},{"c":115,"s":0,"t":240,"v":0.92},{"c":115,"s":0,"t":270,"v":0.89},{"c":115,"s":0,"t":300,"v":0.87},{"c":115,"s":0,"t":330,"v":0.9},{"c":115,"s":0,"t":360,"v":0.86},{"c":115,"s":0,"t":390,"v":0.89},{"c":115,"s":0,"t":420,"v":0.85},{"c":115,"s":0,"t":450,"v":0.86},
{"c":116,"s":0,"t":0,"v":0.25},{"c":116,"s":0,"t":30,"v":1},{"c":116,"s":0,"t":60,"v":0.93},{"c":116,"s":0,"t":90,"v":0.96},{"c":116,"s":0,"t":120,"v":0.97},{"c":116,"s":0,"t":150,"v":0.92},{"c":116,"s":0,"t":180,"v":0.99},{"c":116,"s":0,"t":210,"v":0.96},{"c":116,"s":0,"t":240,"v":0.98},{"c":116,"s":0,"t":270,"v":0.95},{"c":116,"s":0,"t":300,"v":0.94},{"c":116,"s":0,"t":330,"v":1},{"c":116,"s":0,"t":360,"v":0.97},{"c":116,"s":0,"t":390,"v":1},{"c":116,"s":0,"t":420,"v":0.96},{"c":116,"s":0,"t":450,"v":0.99},
{"c":117,"s":0,"t":0,"v":0.8},{"c":117,"s":0,"t":30,"v":0.99},{"c":117,"s":0,"t":60,"v":0.97},{"c":117,"s":0,"t":90,"v":0.91},{"c":117,"s":0,"t":120,"v":0.95},{"c":117,"s":0,"t":150,"v":0.98},{"c":117,"s":0,"t":180,"v":0.94},{"c":117,"s":0,"t":210,"v":0.97},{"c":117,"s":0,"t":240,"v":0.96},{"c":117,"s":0,"t":270,"v":0.91},{"c":117,"s":0,"t":300,"v":0.92},{"c":117,"s":0,"t":330,"v":0.95},{"c":117,"s":0,"t":360,"v":0.9},{"c":117,"s":0,"t":390,"v":0.94},{"c":117,"s":0,"t":420,"v":0.88},{"c":117,"s":0,"t":450,"v":0.92},
{"c":118,"s":0,"t":0,"v":0.45},{"c":118,"s":0,"t":30,"v":0.75},{"c":118,"s":0,"t":60,"v":0.9},{"c":118,"s":0,"t":90,"v":0.86},{"c":118,"s":0,"t":120,"v":0.93},{"c":118,"s":0,"t":150,"v":0.88},{"c":118,"s":0,"t":180,"v":0.95},{"c":118,"s":0,"t":210,"v":0.91},{"c":118,"s":0,"t":240,"v":0.93},{"c":118,"s":0,"t":270,"v":0.88},{"c":118,"s":0,"t":300,"v":0.9},{"c":118,"s":0,"t":330,"v":0.93},{"c":118,"s":0,"t":360,"v":0.89},{"c":118,"s":0,"t":390,"v":0.92},{"c":118,"s":0,"t":420,"v":0.87},{"c":118,"s":0,"t":450,"v":0.9}
    ]
  },
  "hconcat": [
    {
      "title": "Všechny buňky",
      "width": 280,
      "height": 519,
      "layer": [
        {
          "data": {"name": "cells"},
          "mark": {"type": "line", "stroke": "#0000ff", "strokeWidth": 0.7, "strokeOpacity": 0.6},
          "encoding": {
            "x": {"field": "t", "type": "quantitative", "scale": {"domain": [0, 600]}, "axis": {"values": [0, 200, 400, 600], "title": "čas [min]"}},
            "y": {"field": "v", "type": "quantitative", "scale": {"domain": [0.2, 1]}, "axis": {"values": [0.2, 0.3, 0.4, 0.5, 0.6, 0.7, 0.8, 0.9, 1], "format": ".1~f", "title": "Intenzita fluorescence v závislosti na ploše []"}},
            "detail": {"field": "c", "type": "nominal"},
            "order": {"field": "t", "type": "quantitative"}
          }
        },
        {
          "data": {"name": "dots"},
          "mark": {"type": "square", "size": 18, "color": "#0000ff", "opacity": 1},
          "encoding": {
            "x": {"field": "t", "type": "quantitative", "axis": {"orient": "top", "values": [0, 200, 400, 600], "labels": false, "title": null}},
            "y": {"field": "v", "type": "quantitative", "axis": {"orient": "right", "values": [0.2, 0.3, 0.4, 0.5, 0.6, 0.7, 0.8, 0.9, 1], "labels": false, "title": null}}
          }
        }
      ],
      "resolve": {"axis": {"x": "independent", "y": "independent"}}
    },
    {
      "title": "Vybrané buňky",
      "width": 282,
      "height": 519,
      "layer": [
        {
          "data": {"name": "cells"},
          "transform": [{"filter": "datum.s == 1 && datum.c != 50"}],
          "mark": {"type": "line", "stroke": "#0000ff", "strokeWidth": 0.7, "strokeOpacity": 0.6},
          "encoding": {
            "x": {"field": "t", "type": "quantitative", "scale": {"domain": [0, 600]}, "axis": {"values": [0, 200, 400, 600], "title": "čas [min]"}},
            "y": {"field": "v", "type": "quantitative", "scale": {"domain": [0.2, 1]}, "axis": {"values": [0.2, 0.3, 0.4, 0.5, 0.6, 0.7, 0.8, 0.9, 1], "format": ".1~f", "titlePadding": 4, "title": "Intenzita fluorescence v závislosti na ploše []"}},
            "detail": {"field": "c", "type": "nominal"},
            "order": {"field": "t", "type": "quantitative"}
          }
        },
        {
          "data": {"name": "cells"},
          "transform": [{"filter": "datum.c == 50"}],
          "mark": {"type": "line", "stroke": "#d0103a", "strokeWidth": 0.9, "strokeOpacity": 0.85},
          "encoding": {
            "x": {"field": "t", "type": "quantitative", "axis": {"orient": "top", "values": [0, 200, 400, 600], "labels": false, "title": null}},
            "y": {"field": "v", "type": "quantitative", "axis": {"orient": "right", "values": [0.2, 0.3, 0.4, 0.5, 0.6, 0.7, 0.8, 0.9, 1], "labels": false, "title": null}},
            "order": {"field": "t", "type": "quantitative"}
          }
        }
      ],
      "resolve": {"axis": {"x": "independent", "y": "independent"}}
    }
  ]
}
